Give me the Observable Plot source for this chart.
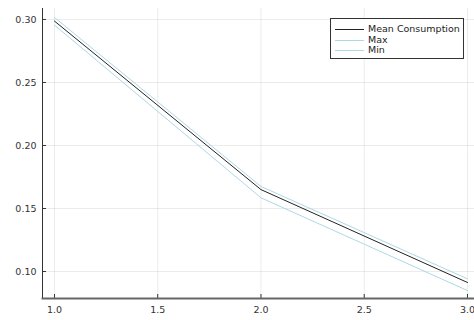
<!DOCTYPE html>
<html><head><meta charset="utf-8">
<script src="https://cdn.jsdelivr.net/npm/d3@7"></script>
<script src="https://cdn.jsdelivr.net/npm/@observablehq/plot@0.6"></script>
<style>
body{margin:0;background:#fff;}
#wrap{position:relative;width:474px;height:320px;font-family:"DejaVu Sans",sans-serif;}
#legend{position:absolute;left:330px;top:18px;width:134px;height:41px;border:1px solid #333;background:#fff;box-sizing:border-box;font-size:9.5px;color:#222;}
#legend .row{position:absolute;left:4px;height:11px;line-height:11px;white-space:nowrap;}
#legend .sw{display:inline-block;width:29px;height:0;vertical-align:middle;margin-right:4px;}
</style>
</head><body>
<div id="wrap"><div id="legend"></div></div>
<script>
const xs = [1.0, 2.0, 3.0];
const meanValues = [0.2987, 0.1650, 0.0913];
const maxValues = [0.3016, 0.1675, 0.0942];
const minValues = [0.2955, 0.1585, 0.0849];
const xTicks = [1.0, 1.5, 2.0, 2.5, 3.0];
const yTicks = [0.10, 0.15, 0.20, 0.25, 0.30];
const seriesNames = ["Mean Consumption", "Max", "Min"];
const seriesColors = ["#222222", "#add8e6", "#add8e6"];

const rows = [];
[meanValues, maxValues, minValues].forEach((vals, si) => {
  vals.forEach((v, i) => rows.push({x: xs[i], y: v, s: seriesNames[si]}));
});

const W = 474, H = 320, mL = 42, mR = 0, mT = 8, mB = 22;
const plot = Plot.plot({
  width: W, height: H,
  marginLeft: mL, marginRight: mR, marginTop: mT, marginBottom: mB,
  style: {fontFamily: "DejaVu Sans, sans-serif", fontSize: "9.5px", color: "#333", background: "#fff"},
  x: {domain: [0.942, 3.034], ticks: xTicks, tickFormat: d3.format(".1f")},
  y: {domain: [0.0786, 0.3087], ticks: yTicks, tickFormat: d3.format(".2f")},
  marks: [
    Plot.gridX(xTicks, {stroke: "#000", strokeOpacity: 0.08}),
    Plot.gridY(yTicks, {stroke: "#000", strokeOpacity: 0.08}),
    Plot.line(rows, {x: "x", y: "y", z: "s", stroke: d => seriesColors[seriesNames.indexOf(d.s)], strokeWidth: 1}),
    Plot.axisX(xTicks, {tickSize: 0, tickPadding: 8, label: null, fill: "#333"}),
    Plot.axisY(yTicks, {tickSize: 0, tickPadding: 6, label: null, fill: "#333"}),
    Plot.tickX(xTicks, {x: d => d, insetTop: H - mT - mB - 4, stroke: "#333"}),
    Plot.tickY(yTicks, {y: d => d, insetRight: W - mL - mR - 4, stroke: "#333"}),
    Plot.frame({anchor: "left", stroke: "#333", strokeWidth: 1}),
    Plot.frame({anchor: "bottom", stroke: "#666", strokeWidth: 2})
  ]
});
document.getElementById("wrap").prepend(plot);

const legend = document.getElementById("legend");
seriesNames.forEach((n, i) => {
  const r = document.createElement("div");
  r.className = "row";
  r.style.top = (4 + i * 10.7) + "px";
  r.innerHTML = `<span class="sw" style="border-top:1px solid ${seriesColors[i]}"></span>${n}`;
  legend.appendChild(r);
});
</script>
</body></html>
